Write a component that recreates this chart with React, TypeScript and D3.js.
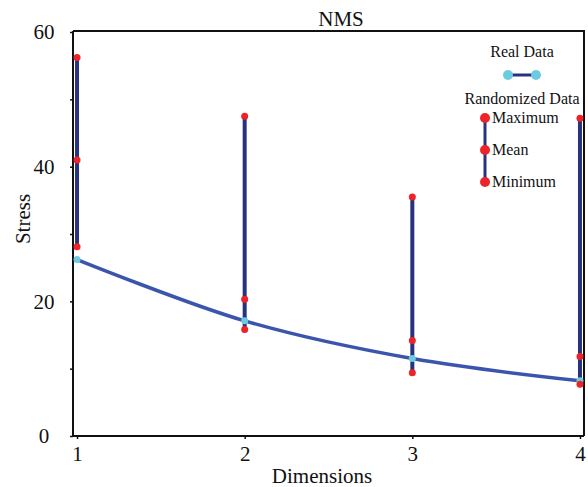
import React, { useRef, useEffect } from "react";
import * as d3 from "d3";

// NMS stress by number of dimensions
const dimensions = [1, 2, 3, 4];
const realStress = [26.2, 17.1, 11.5, 8.2];
const randMax = [56.2, 47.5, 35.5, 47.2];
const randMean = [41.0, 20.3, 14.2, 11.8];
const randMin = [28.1, 15.8, 9.4, 7.7];
const yTicks = [0, 10, 20, 30, 40, 50, 60];
const yLabels = [0, 20, 40, 60];

const width = 588;
const height = 487;
const FONT = "Liberation Serif, Times New Roman, Times, DejaVu Serif, serif";

const NAVY = "#27337f";
const LINE = "#3b55ad";
const RED = "#ee2328";
const CYAN = "#6dcbe0";

const App = () => {
  const svgRef = useRef<SVGSVGElement>(null);

  useEffect(() => {
    const svg = d3.select(svgRef.current);
    svg.selectAll("*").remove();

    const left = 73,
      right = 584,
      top = 31,
      bottom = 436;

    const x = d3.scaleLinear().domain([0.976, 4.024]).range([left, right]);
    const y = d3.scaleLinear().domain([0, 60]).range([bottom, 32]);

    const txt = (sel: any, size: number) =>
      sel.attr("font-family", FONT).attr("font-size", size).attr("fill", "#111");

    // frame (top + right)
    svg
      .append("path")
      .attr("d", `M${left},${top}H${right}V${bottom}`)
      .attr("fill", "none")
      .attr("stroke", "#111")
      .attr("stroke-width", 2);

    // y axis
    const yAxis = svg
      .append("g")
      .attr("transform", `translate(${left},0)`)
      .call(
        d3
          .axisLeft(y)
          .tickValues(yTicks)
          .tickSize(3)
          .tickFormat(() => "")
      );
    yAxis.select(".domain").attr("d", `M0,${top}V${bottom}`).attr("stroke", "#111").attr("stroke-width", 2);
    yAxis.selectAll(".tick line").attr("stroke", "#111").attr("stroke-width", 1.5);

    txt(
      svg
        .append("g")
        .selectAll("text")
        .data(yLabels)
        .enter()
        .append("text")
        .attr("x", 44)
        .attr("y", (d) => y(d))
        .attr("dy", "0.35em")
        .attr("text-anchor", "middle")
        .text((d) => d),
      21
    );

    // x axis
    const xAxis = svg
      .append("g")
      .attr("transform", `translate(0,${bottom})`)
      .call(
        d3
          .axisBottom(x)
          .tickValues(dimensions)
          .tickSize(3)
          .tickPadding(7)
          .tickFormat(d3.format("d"))
      );
    xAxis.attr("font-family", null).attr("font-size", null);
    xAxis.select(".domain").attr("d", `M${left},0H${right}`).attr("stroke", "#111").attr("stroke-width", 2);
    xAxis.selectAll(".tick line").attr("stroke", "#111").attr("stroke-width", 1.5);
    txt(xAxis.selectAll(".tick text"), 21);

    // titles
    txt(svg.append("text").attr("x", 341).attr("y", 26).attr("text-anchor", "middle").text("NMS"), 21);
    txt(svg.append("text").attr("x", 322).attr("y", 483).attr("text-anchor", "middle").text("Dimensions"), 21);
    txt(
      svg
        .append("text")
        .attr("transform", "translate(30,219) rotate(-90)")
        .attr("text-anchor", "middle")
        .text("Stress"),
      21
    );

    // randomized ranges
    svg
      .append("g")
      .selectAll("line")
      .data(dimensions)
      .enter()
      .append("line")
      .attr("x1", (d) => x(d))
      .attr("x2", (d) => x(d))
      .attr("y1", (d, i) => y(randMin[i]))
      .attr("y2", (d, i) => y(randMax[i]))
      .attr("stroke", NAVY)
      .attr("stroke-width", 4);

    // real data curve
    const line = d3
      .line<number>()
      .x((d) => x(d))
      .y((d, i) => y(realStress[i]))
      .curve(d3.curveCatmullRom.alpha(0.5));
    svg
      .append("path")
      .datum(dimensions)
      .attr("d", line)
      .attr("fill", "none")
      .attr("stroke", LINE)
      .attr("stroke-width", 3.5);

    svg
      .append("g")
      .selectAll("circle")
      .data(dimensions)
      .enter()
      .append("circle")
      .attr("cx", (d) => x(d))
      .attr("cy", (d, i) => y(realStress[i]))
      .attr("r", 3.5)
      .attr("fill", CYAN);

    const reds = [randMax, randMean, randMin];
    reds.forEach((arr) => {
      svg
        .append("g")
        .selectAll("circle")
        .data(dimensions)
        .enter()
        .append("circle")
        .attr("cx", (d) => x(d))
        .attr("cy", (d, i) => y(arr[i]))
        .attr("r", 3.5)
        .attr("fill", RED);
    });

    // legend
    const legend = svg.append("g");
    txt(legend.append("text").attr("x", 522).attr("y", 57).attr("text-anchor", "middle").text("Real Data"), 16);
    legend
      .append("line")
      .attr("x1", 508)
      .attr("x2", 536)
      .attr("y1", 75)
      .attr("y2", 75)
      .attr("stroke", NAVY)
      .attr("stroke-width", 3);
    [508, 536].forEach((cx) =>
      legend.append("circle").attr("cx", cx).attr("cy", 75).attr("r", 5).attr("fill", CYAN)
    );
    txt(
      legend.append("text").attr("x", 522).attr("y", 104).attr("text-anchor", "middle").text("Randomized Data"),
      16
    );
    legend
      .append("line")
      .attr("x1", 485)
      .attr("x2", 485)
      .attr("y1", 118)
      .attr("y2", 182)
      .attr("stroke", NAVY)
      .attr("stroke-width", 3);
    const items = [
      { label: "Maximum", cy: 118 },
      { label: "Mean", cy: 150 },
      { label: "Minimum", cy: 182 },
    ];
    items.forEach((it) => {
      legend.append("circle").attr("cx", 485).attr("cy", it.cy).attr("r", 5).attr("fill", RED);
      txt(legend.append("text").attr("x", 492).attr("y", it.cy + 5).text(it.label), 16);
    });
  }, []);

  return (
    <svg
      ref={svgRef}
      width={width}
      height={height}
      style={{ position: "absolute", left: 0, top: 0, background: "#fff" }}
    ></svg>
  );
};

export default App;
